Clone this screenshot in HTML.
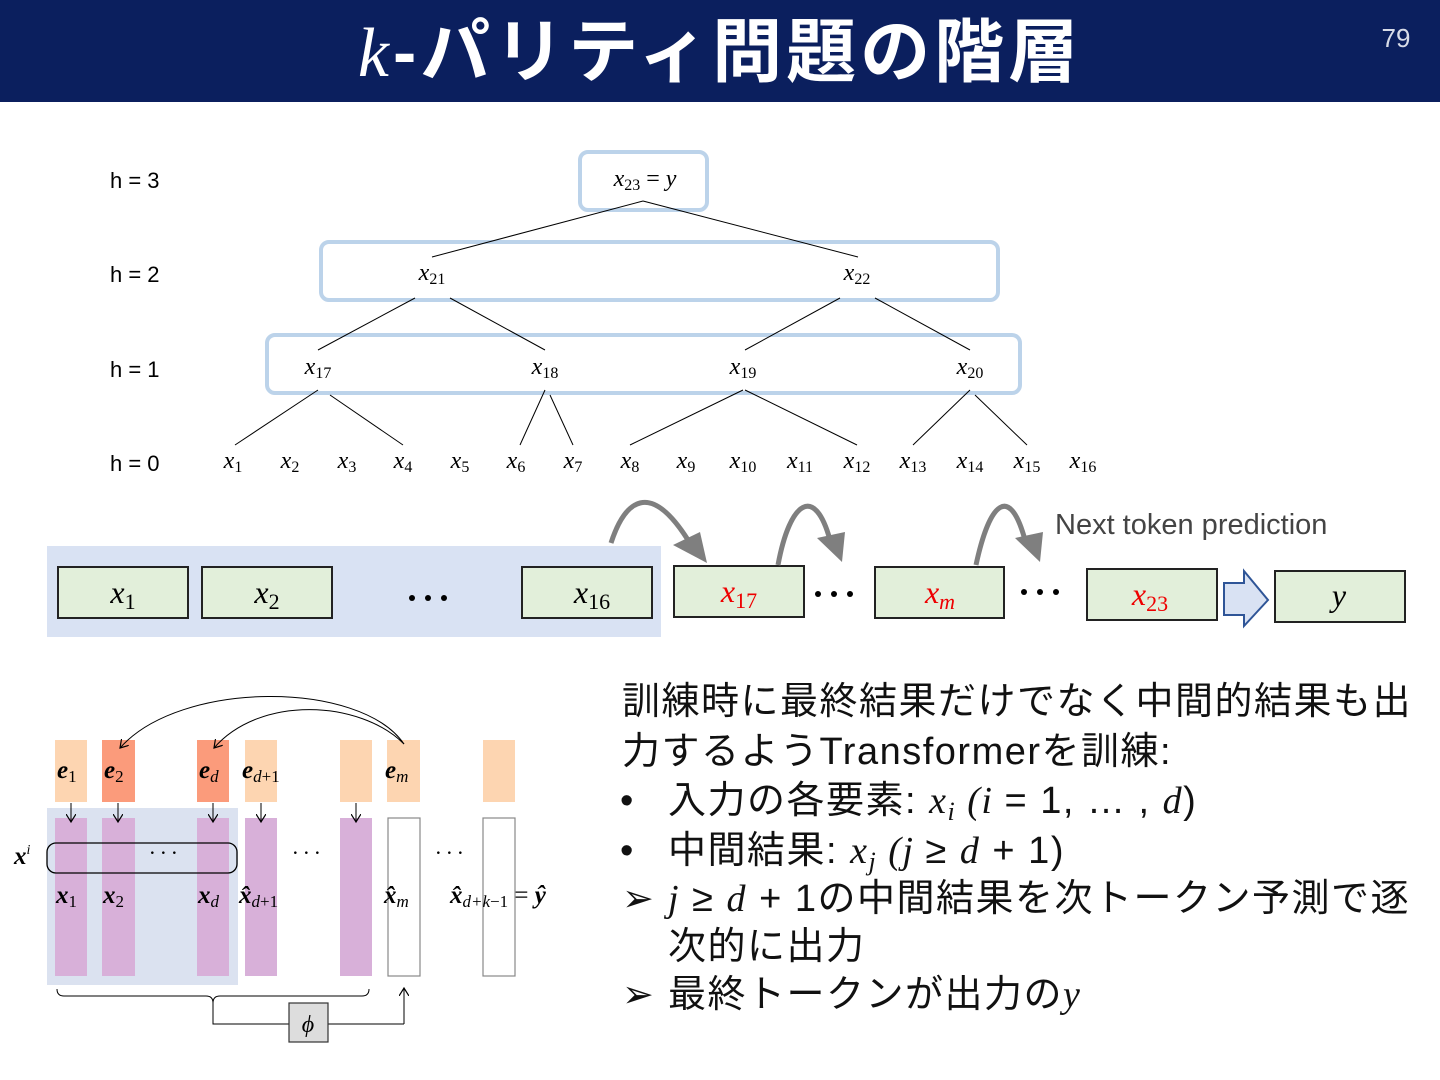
<!DOCTYPE html>
<html><head><meta charset="utf-8"><style>
html,body{margin:0;padding:0;background:#fff;}
svg{display:block;}
.m{font-family:"Liberation Serif","DejaVu Serif",serif;font-style:italic;}
.j{font-family:"Liberation Sans","Noto Sans CJK JP",sans-serif;}
</style></head><body>
<svg width="1440" height="1080" viewBox="0 0 1440 1080" xmlns="http://www.w3.org/2000/svg">
<defs>
<marker id="ah" markerWidth="10" markerHeight="10" refX="8" refY="5" orient="auto" markerUnits="userSpaceOnUse"><path d="M0,0 L8,5 L0,10" fill="none" stroke="#000" stroke-width="1.2"/></marker>
</defs>
<rect x="0" y="0" width="1440" height="102" fill="#0b1f5e"/>
<text x="720" y="76" text-anchor="middle" fill="#fff" font-size="70" font-weight="bold" letter-spacing="4" class="j"><tspan class="m" font-weight="normal">k</tspan>-パリティ問題の階層</text>
<text x="1396" y="47" text-anchor="middle" fill="#d8dce8" font-size="26" class="j">79</text>

<!-- tree -->
<g fill="none" stroke="#bcd3ea" stroke-width="4">
<rect x="580" y="152" width="127" height="58" rx="8"/>
<rect x="321" y="242" width="677" height="58" rx="8"/>
<rect x="267" y="335" width="753" height="58" rx="8"/>
</g>
<g stroke="#000" stroke-width="1" fill="none">
<path d="M643,201 L432,257 M643,201 L858,257"/>
<path d="M415,298 L318,350 M450,298 L545,350 M840,298 L745,350 M875,298 L970,350"/>
<path d="M318,390 L235,445 M330,395 L403,445 M545,390 L520,445 M550,395 L573,445 M743,390 L630,445 M745,390 L857,445 M970,390 L913,445 M975,395 L1027,445"/>
</g>
<g font-size="22" class="j" fill="#000">
<text x="110" y="188">h = 3</text><text x="110" y="282">h = 2</text><text x="110" y="377">h = 1</text><text x="110" y="471">h = 0</text>
</g>
<g font-size="24" class="m" text-anchor="middle">
<text x="645" y="186">x<tspan font-size="16" font-style="normal" dy="4">23</tspan><tspan dy="-4" font-style="normal"> = </tspan>y</text>
<text x="432" y="280">x<tspan font-size="16" font-style="normal" dy="4">21</tspan></text>
<text x="857" y="280">x<tspan font-size="16" font-style="normal" dy="4">22</tspan></text>
<text x="318" y="374">x<tspan font-size="16" font-style="normal" dy="4">17</tspan></text>
<text x="545" y="374">x<tspan font-size="16" font-style="normal" dy="4">18</tspan></text>
<text x="743" y="374">x<tspan font-size="16" font-style="normal" dy="4">19</tspan></text>
<text x="970" y="374">x<tspan font-size="16" font-style="normal" dy="4">20</tspan></text>
<text x="233" y="468">x<tspan font-size="16" font-style="normal" dy="4">1</tspan></text>
<text x="290" y="468">x<tspan font-size="16" font-style="normal" dy="4">2</tspan></text>
<text x="347" y="468">x<tspan font-size="16" font-style="normal" dy="4">3</tspan></text>
<text x="403" y="468">x<tspan font-size="16" font-style="normal" dy="4">4</tspan></text>
<text x="460" y="468">x<tspan font-size="16" font-style="normal" dy="4">5</tspan></text>
<text x="516" y="468">x<tspan font-size="16" font-style="normal" dy="4">6</tspan></text>
<text x="573" y="468">x<tspan font-size="16" font-style="normal" dy="4">7</tspan></text>
<text x="630" y="468">x<tspan font-size="16" font-style="normal" dy="4">8</tspan></text>
<text x="686" y="468">x<tspan font-size="16" font-style="normal" dy="4">9</tspan></text>
<text x="743" y="468">x<tspan font-size="16" font-style="normal" dy="4">10</tspan></text>
<text x="800" y="468">x<tspan font-size="16" font-style="normal" dy="4">11</tspan></text>
<text x="857" y="468">x<tspan font-size="16" font-style="normal" dy="4">12</tspan></text>
<text x="913" y="468">x<tspan font-size="16" font-style="normal" dy="4">13</tspan></text>
<text x="970" y="468">x<tspan font-size="16" font-style="normal" dy="4">14</tspan></text>
<text x="1027" y="468">x<tspan font-size="16" font-style="normal" dy="4">15</tspan></text>
<text x="1083" y="468">x<tspan font-size="16" font-style="normal" dy="4">16</tspan></text>
</g>

<!-- sequence -->
<rect x="47" y="546" width="614" height="91" fill="#d9e2f3"/>
<g fill="#e2efda" stroke="#222" stroke-width="2">
<rect x="58" y="567" width="130" height="51"/><rect x="202" y="567" width="130" height="51"/><rect x="522" y="567" width="130" height="51"/>
<rect x="674" y="566" width="130" height="51"/><rect x="875" y="567" width="129" height="51"/><rect x="1087" y="569" width="130" height="51"/><rect x="1275" y="571" width="130" height="51"/>
</g>
<g font-size="32" class="m" text-anchor="middle">
<text x="123" y="603">x<tspan font-size="22" font-style="normal" dy="6">1</tspan></text>
<text x="267" y="603">x<tspan font-size="22" font-style="normal" dy="6">2</tspan></text>
<text x="592" y="603">x<tspan font-size="22" font-style="normal" dy="6">16</tspan></text>
<text x="739" y="602" fill="#e00">x<tspan font-size="22" font-style="normal" dy="6">17</tspan></text>
<text x="940" y="603" fill="#e00">x<tspan font-size="22" dy="6">m</tspan></text>
<text x="1150" y="605" fill="#e00">x<tspan font-size="22" font-style="normal" dy="6">23</tspan></text>
<text x="1339" y="606">y</text>
</g>
<g fill="#000">
<circle cx="412" cy="598" r="3"/><circle cx="428" cy="598" r="3"/><circle cx="444" cy="598" r="3"/>
<circle cx="818" cy="594" r="3"/><circle cx="834" cy="594" r="3"/><circle cx="850" cy="594" r="3"/>
<circle cx="1024" cy="592" r="3"/><circle cx="1040" cy="592" r="3"/><circle cx="1056" cy="592" r="3"/>
</g>
<path d="M1224,583 L1244,583 L1244,571 L1268,600 L1244,626 L1244,615 L1224,615 Z" fill="#d9e2f3" stroke="#2f5597" stroke-width="2"/>
<g fill="none" stroke="#7f7f7f" stroke-width="5">
<path d="M611,543 C625,500 650,480 688,540"/>
<path d="M778,565 C790,500 815,485 830,540"/>
<path d="M976,565 C990,500 1010,485 1025,540"/>
</g>
<g fill="#7f7f7f">
<path d="M673,545 L700,532 L707,563 Z"/>
<path d="M817,538 L845,532 L842,562 Z"/>
<path d="M1015,538 L1043,532 L1040,562 Z"/>
</g>
<text x="1055" y="534" font-size="29" class="j" fill="#444">Next token prediction</text>

<!-- bottom left -->
<rect x="47" y="808" width="191" height="177" fill="#dbe2f0"/>
<g fill="#fdd5b1">
<rect x="55" y="740" width="32" height="62"/><rect x="245" y="740" width="32" height="62"/><rect x="340" y="740" width="32" height="62"/><rect x="387" y="740" width="33" height="62"/><rect x="483" y="740" width="32" height="62"/>
</g>
<g fill="#fb9b7b"><rect x="102" y="740" width="33" height="62"/><rect x="197" y="740" width="32" height="62"/></g>
<g fill="#d8b0d9">
<rect x="55" y="818" width="32" height="158"/><rect x="102" y="818" width="33" height="158"/><rect x="197" y="818" width="32" height="158"/><rect x="245" y="818" width="32" height="158"/><rect x="340" y="818" width="32" height="158"/>
</g>
<g fill="#fff" stroke="#888" stroke-width="1.2"><rect x="388" y="818" width="32" height="158"/><rect x="483" y="818" width="32" height="158"/></g>
<g stroke="#000" stroke-width="1" fill="none" marker-end="url(#ah)">
<path d="M71,803 L71,822"/><path d="M118,803 L118,822"/><path d="M213,803 L213,822"/><path d="M261,803 L261,822"/><path d="M356,803 L356,822"/>
<path d="M404,744 C360,680 180,680 120,748"/>
<path d="M404,744 C360,700 260,695 214,748"/>
<path d="M404,1024 L404,988"/>
</g>
<rect x="47" y="843" width="190" height="30" rx="9" fill="none" stroke="#000" stroke-width="1.3"/>
<path d="M57,989 Q57,996 64,996 L206,996 Q213,996 213,1003 Q213,996 220,996 L362,996 Q369,996 369,989" fill="none" stroke="#000" stroke-width="1"/>
<path d="M213,1003 L213,1024 L290,1024 M328,1024 L404,1024" fill="none" stroke="#000" stroke-width="1"/>
<rect x="289" y="1003" width="39" height="39" fill="#ddd" stroke="#333" stroke-width="1.2"/>
<text x="308" y="1032" text-anchor="middle" font-size="24" class="m">ϕ</text>
<g font-size="25" class="m" font-weight="bold">
<text x="57" y="778">e<tspan font-size="17" font-weight="normal" font-style="normal" dy="4">1</tspan></text>
<text x="104" y="778">e<tspan font-size="17" font-weight="normal" font-style="normal" dy="4">2</tspan></text>
<text x="199" y="778">e<tspan font-size="17" font-weight="normal" dy="4">d</tspan></text>
<text x="242" y="778">e<tspan font-size="17" font-weight="normal" dy="4">d</tspan><tspan font-size="17" font-weight="normal" font-style="normal">+1</tspan></text>
<text x="385" y="778">e<tspan font-size="17" font-weight="normal" dy="4">m</tspan></text>
<text x="14" y="864">x<tspan font-size="14" font-weight="normal" dy="-10">i</tspan></text>
<text x="56" y="903">x<tspan font-size="17" font-weight="normal" font-style="normal" dy="4">1</tspan></text>
<text x="103" y="903">x<tspan font-size="17" font-weight="normal" font-style="normal" dy="4">2</tspan></text>
<text x="198" y="903">x<tspan font-size="17" font-weight="normal" dy="4">d</tspan></text>
<text x="239" y="903">x̂<tspan font-size="17" font-weight="normal" dy="4">d</tspan><tspan font-size="17" font-weight="normal" font-style="normal">+1</tspan></text>
<text x="384" y="903">x̂<tspan font-size="17" font-weight="normal" dy="4">m</tspan></text>
<text x="450" y="903">x̂<tspan font-size="17" font-weight="normal" dy="4">d+k</tspan><tspan font-size="17" font-weight="normal" font-style="normal">−1</tspan><tspan font-weight="normal" font-style="normal" dy="-4"> = </tspan>ŷ</text>
</g>
<g font-size="22" text-anchor="middle" class="m"><text x="163" y="860">· · ·</text><text x="306" y="860">· · ·</text><text x="449" y="860">· · ·</text></g>

<!-- right text -->
<g font-size="38" class="j" fill="#111" letter-spacing="1.5">
<text x="622" y="714">訓練時に最終結果だけでなく中間的結果も出</text>
<text x="622" y="764">力するようTransformerを訓練:</text>
<text x="620" y="813">•</text>
<text x="668" y="813">入力の各要素: <tspan class="m">x</tspan><tspan class="m" font-size="26" dy="7">i</tspan><tspan dy="-7" class="m"> (i </tspan><tspan>= 1, … , </tspan><tspan class="m">d</tspan>)</text>
<text x="620" y="863">•</text>
<text x="668" y="863">中間結果: <tspan class="m">x</tspan><tspan class="m" font-size="26" dy="7">j</tspan><tspan dy="-7" class="m"> (j </tspan>≥ <tspan class="m">d</tspan> + 1)</text>
<text x="622" y="911">➢</text>
<text x="668" y="911"><tspan class="m">j</tspan> ≥ <tspan class="m">d</tspan> + 1の中間結果を次トークン予測で逐</text>
<text x="668" y="959">次的に出力</text>
<text x="622" y="1007">➢</text>
<text x="668" y="1007">最終トークンが出力の<tspan class="m">y</tspan></text>
</g>
</svg>
</body></html>
